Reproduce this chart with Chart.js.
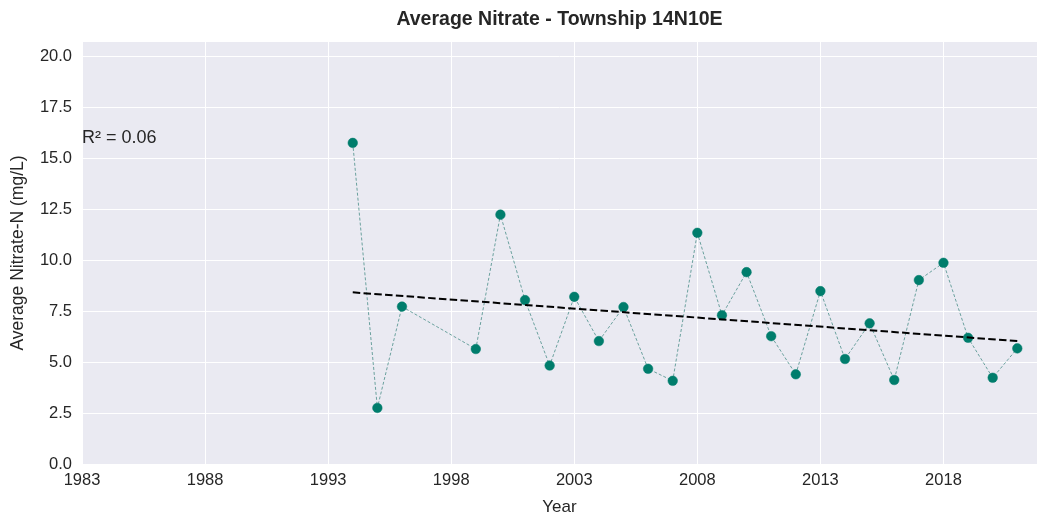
<!DOCTYPE html>
<html>
<head>
<meta charset="utf-8">
<script src="https://cdn.jsdelivr.net/npm/chart.js@4.4.1/dist/chart.umd.min.js"></script>
<style>
  body { margin: 0; background: #ffffff; }
  #wrap { width: 1037px; height: 523px; position: relative; }
</style>
</head>
<body>
<div id="wrap"><canvas id="nitrateChart"></canvas></div>
<script>
// values
var years = [1994, 1995, 1996, 1999, 2000, 2001, 2002, 2003, 2004, 2005, 2006, 2007, 2008,
  2009, 2010, 2011, 2012, 2013, 2014, 2015, 2016, 2017, 2018, 2019, 2020, 2021];
var nitrate = [15.75, 2.75, 7.72, 5.64, 12.23, 8.04, 4.83, 8.20, 6.03, 7.70, 4.67, 4.08, 11.34,
  7.30, 9.41, 6.27, 4.40, 8.48, 5.15, 6.90, 4.12, 9.02, 9.87, 6.19, 4.23, 5.67];

// linear trend end points
var trendYears = [1994, 2021];
var trendValues = [8.42, 6.03];

var xTicks = [1983, 1988, 1993, 1998, 2003, 2008, 2013, 2018];
var yTicks = [0, 2.5, 5, 7.5, 10, 12.5, 15, 17.5, 20];

var chartTitle = "Average Nitrate - Township 14N10E";
var r2Label = "R\u00b2 = 0.06";

var textColor = "#262626";
var fontFamily = "'Liberation Sans', Arial, sans-serif";

var pointsData = years.map(function (y, i) {
  return { x: y, y: nitrate[i] };
});
var trendData = trendYears.map(function (y, i) {
  return { x: y, y: trendValues[i] };
});

// draws the grey plot background, the title and the R² note
var decorPlugin = {
  id: "decor",
  beforeDraw: function (chart) {
    var a = chart.chartArea;
    var ctx = chart.ctx;
    ctx.save();
    ctx.fillStyle = "#eaeaf2";
    ctx.fillRect(a.left, a.top, a.right - a.left, a.bottom - a.top);
    ctx.restore();
  },
  afterDraw: function (chart) {
    var a = chart.chartArea;
    var ctx = chart.ctx;
    ctx.save();
    ctx.fillStyle = textColor;
    ctx.textAlign = "center";
    ctx.textBaseline = "middle";
    ctx.font = "bold 19.5px " + fontFamily;
    ctx.fillText(chartTitle, (a.left + a.right) / 2, 20);

    ctx.textAlign = "left";
    ctx.font = "18px " + fontFamily;
    var xs = chart.scales.x, ys = chart.scales.y;
    ctx.fillText(r2Label, xs.getPixelForValue(1983), ys.getPixelForValue(16.0));
    ctx.restore();
  },
};

var ctx = document.getElementById("nitrateChart").getContext("2d");

new Chart(ctx, {
  type: "scatter",
  data: {
    datasets: [
      {
        label: "Trend",
        data: trendData,
        showLine: true,
        borderColor: "#000000",
        borderWidth: 2,
        borderDash: [7.5, 3.3],
        pointRadius: 0,
        order: 0,
      },
      {
        label: "Average Nitrate",
        data: pointsData,
        showLine: true,
        borderColor: "rgba(20, 110, 100, 0.75)",
        borderWidth: 0.8,
        borderDash: [3, 2],
        pointRadius: 4.8,
        pointBackgroundColor: "#007d6c",
        pointBorderColor: "#007d6c",
        pointBorderWidth: 0.5,
        order: 1,
      },
    ],
  },
  options: {
    responsive: true,
    maintainAspectRatio: false,
    animation: false,
    layout: { autoPadding: false, padding: { top: 42, right: 0, left: 0, bottom: 0 } },
    plugins: {
      legend: { display: false },
      tooltip: { enabled: false },
    },
    scales: {
      x: {
        type: "linear",
        min: 1983,
        max: 2021.8,
        afterBuildTicks: function (scale) {
          scale.ticks = xTicks.map(function (v) { return { value: v }; });
        },
        afterFit: function (scale) { scale.height = 59; },
        grid: { color: "#ffffff", lineWidth: 1, drawTicks: false },
        border: { display: false },
        ticks: {
          padding: 7,
          color: textColor,
          font: { family: fontFamily, size: 16.5 },
          callback: function (v) { return String(v); },
        },
        title: {
          display: true,
          text: "Year",
          color: textColor,
          font: { family: fontFamily, size: 17 },
          padding: { top: 0, bottom: 5 },
        },
      },
      y: {
        min: 0,
        max: 20.7,
        afterBuildTicks: function (scale) {
          scale.ticks = yTicks.map(function (v) { return { value: v }; });
        },
        afterFit: function (scale) { scale.width = 82; },
        grid: { color: "#ffffff", lineWidth: 1, drawTicks: false },
        border: { display: false },
        ticks: {
          padding: 10,
          color: textColor,
          font: { family: fontFamily, size: 16.5 },
          callback: function (v) { return v.toFixed(1); },
        },
        title: {
          display: true,
          text: "Average Nitrate-N (mg/L)",
          color: textColor,
          font: { family: fontFamily, size: 17.5 },
          padding: { top: 8, bottom: 0 },
        },
      },
    },
  },
  plugins: [decorPlugin],
});
</script>
</body>
</html>
